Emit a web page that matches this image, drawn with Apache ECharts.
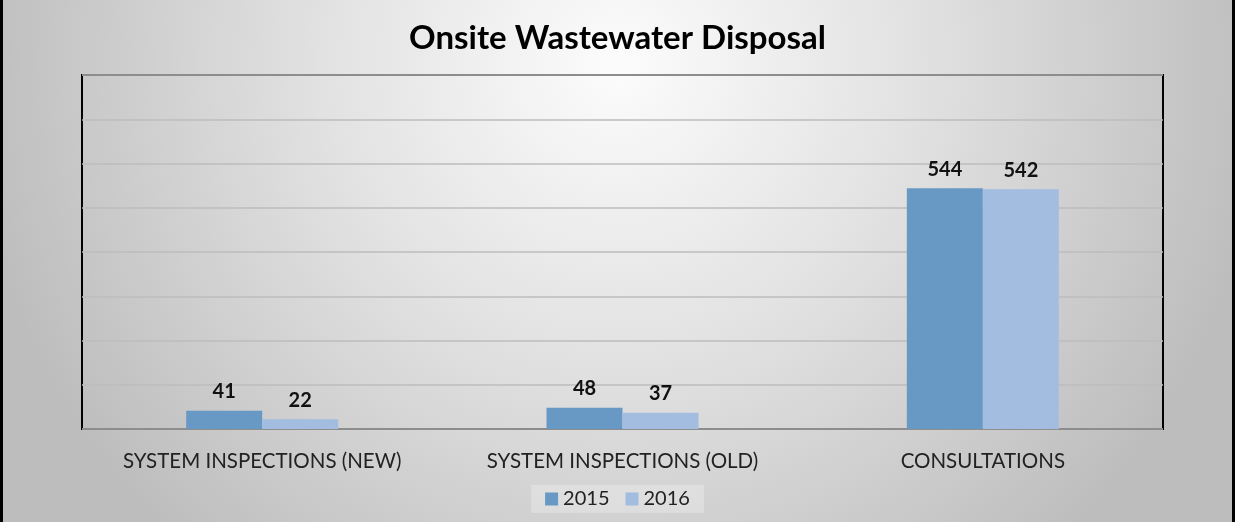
<!DOCTYPE html>
<html>
<head>
<meta charset="utf-8">
<script src="https://cdn.jsdelivr.net/npm/echarts@6/dist/echarts.min.js"></script>
<style>
html,body{margin:0;padding:0;}
#chart{width:1235px;height:522px;}
</style>
</head>
<body>
<div id="chart"></div>
<script>
const categories = ['SYSTEM INSPECTIONS (NEW)', 'SYSTEM INSPECTIONS (OLD)', 'CONSULTATIONS'];
const seriesNames = ['2015', '2016'];
const values2015 = [41, 48, 544];
const values2016 = [22, 37, 542];
const titleText = 'Onsite Wastewater Disposal';

const FONT = 'Lato, "Open Sans", sans-serif';
const chart = echarts.init(document.getElementById('chart'), null, {renderer: 'canvas'});
const labelStyle = {show: true, position: 'top', distance: 9, fontFamily: FONT, fontWeight: 'bold', fontSize: 20, color: '#111'};

chart.setOption({
  backgroundColor: {
    type: 'radial', x: 0.5, y: 0.12, r: 1.25,
    colorStops: [
      {offset: 0, color: '#fcfcfc'},
      {offset: 0.45, color: '#e2e2e2'},
      {offset: 1, color: '#bdbdbd'}
    ]
  },
  title: {
    text: titleText, left: 'center', top: 17,
    textStyle: {fontFamily: FONT, fontWeight: 'bold', fontSize: 33, color: '#000'}
  },
  legend: {
    data: seriesNames, left: 'center', top: 485,
    itemWidth: 13, itemHeight: 13, itemGap: 16, icon: 'rect',
    backgroundColor: 'rgba(255,255,255,0.25)', padding: [4, 14],
    textStyle: {fontFamily: FONT, fontSize: 20, color: '#222'}
  },
  grid: {
    left: 82, right: 72, top: 75, bottom: 93,
    show: true, borderColor: '#000', borderWidth: 2, backgroundColor: 'transparent'
  },
  xAxis: {
    type: 'category', data: categories,
    axisLine: {show: false}, axisTick: {show: false},
    axisLabel: {interval: 0, hideOverlap: false, margin: 22, fontFamily: FONT, fontSize: 20.5, color: '#222'}
  },
  yAxis: {
    type: 'value', min: 0, max: 800, interval: 100,
    axisLabel: {show: false}, axisLine: {show: false}, axisTick: {show: false},
    splitLine: {lineStyle: {color: '#bcbcbc', width: 1.5}}
  },
  series: [
    {name: seriesNames[0], type: 'bar', data: values2015, barWidth: 76, barGap: '0%',
     itemStyle: {color: '#6898c4'}, label: labelStyle},
    {name: seriesNames[1], type: 'bar', data: values2016, barWidth: 76,
     itemStyle: {color: '#a3bde1'}, label: labelStyle}
  ],
  graphic: [
    {type: 'line', shape: {x1: 1.5, y1: 0, x2: 1.5, y2: 522}, style: {stroke: '#000', lineWidth: 3}},
    {type: 'line', shape: {x1: 1233.5, y1: 0, x2: 1233.5, y2: 522}, style: {stroke: '#000', lineWidth: 3}}
  ]
});
</script>
</body>
</html>
